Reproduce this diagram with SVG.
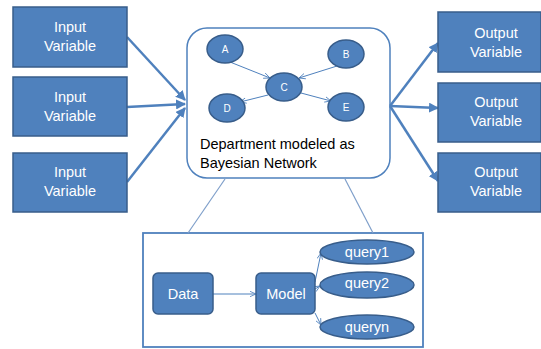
<svg xmlns="http://www.w3.org/2000/svg" width="541" height="349" viewBox="0 0 541 349">
  <style>
    .box { fill: #4f81bd; stroke: #385d8a; stroke-width: 1.5; }
    .lbl { fill: #ffffff; font-family: "Liberation Sans", Arial, sans-serif; font-size: 14.5px; text-anchor: middle; }
    .nlbl { fill: #ffffff; font-family: "Liberation Sans", Arial, sans-serif; font-size: 10px; text-anchor: middle; }
    .dark { fill: #000000; font-family: "Liberation Sans", Arial, sans-serif; font-size: 14.5px; }
    .flow { stroke: #4f81bd; stroke-width: 2.5; fill: none; marker-end: url(#bigArrow); }
    .thin { stroke: #4f81bd; stroke-width: 1; fill: none; marker-end: url(#openArrow); }
    .link { stroke: #7f9fca; stroke-width: 1.2; fill: none; }
  </style>
  <defs>
    <marker id="bigArrow" viewBox="0 0 10 10" refX="9" refY="5" markerWidth="4" markerHeight="4" orient="auto">
      <path d="M0,0 L10,5 L0,10 z" fill="#4f81bd"/>
    </marker>
    <marker id="openArrow" viewBox="0 0 10 10" refX="9" refY="5" markerWidth="7" markerHeight="7" orient="auto">
      <path d="M0,1 L9,5 L0,9" fill="none" stroke="#4f81bd" stroke-width="1.2"/>
    </marker>
  </defs>

  <rect width="541" height="349" fill="#ffffff"/>

  <!-- containers -->
  <g id="department">
    <rect x="187" y="28" width="203" height="150" rx="20" ry="20" fill="#ffffff" stroke="#4f81bd" stroke-width="1.5"/>
    <text class="dark" x="200" y="149">Department modeled as</text>
    <text class="dark" x="200" y="168">Bayesian Network</text>
  </g>
  <g id="detail">
    <rect x="143" y="233" width="280" height="114" fill="#ffffff" stroke="#4f81bd" stroke-width="1.8"/>
  </g>

  <!-- connectors -->
  <g id="connectors">
    <line class="flow" x1="127" y1="37" x2="185" y2="100"/>
    <line class="flow" x1="127" y1="107" x2="185" y2="104"/>
    <line class="flow" x1="127" y1="182" x2="185" y2="108"/>
    <line class="flow" x1="390" y1="106" x2="438" y2="43"/>
    <line class="flow" x1="390" y1="106" x2="438" y2="108"/>
    <line class="flow" x1="390" y1="106" x2="438" y2="181"/>
    <line class="thin" x1="230" y1="62" x2="270" y2="78"/>
    <line class="thin" x1="337" y1="66" x2="299" y2="78"/>
    <line class="thin" x1="268" y1="95" x2="240" y2="102"/>
    <line class="thin" x1="301" y1="93" x2="331" y2="101"/>
    <line class="link" x1="225" y1="179" x2="188" y2="233"/>
    <line class="link" x1="345" y1="179" x2="373" y2="233"/>
    <line class="thin" x1="213" y1="294" x2="256" y2="294"/>
    <line class="thin" x1="315" y1="282" x2="321" y2="253"/>
    <line class="thin" x1="315" y1="289" x2="320" y2="286"/>
    <line class="thin" x1="315" y1="313" x2="321" y2="325"/>
  </g>

  <!-- inputs -->
  <g id="input1">
    <rect class="box" x="13" y="7" width="114" height="60"/>
    <text class="lbl" x="70" y="32">Input</text>
    <text class="lbl" x="70" y="51">Variable</text>
  </g>
  <g id="input2">
    <rect class="box" x="13" y="77" width="114" height="59"/>
    <text class="lbl" x="70" y="102">Input</text>
    <text class="lbl" x="70" y="121">Variable</text>
  </g>
  <g id="input3">
    <rect class="box" x="13" y="153" width="114" height="59"/>
    <text class="lbl" x="70" y="177">Input</text>
    <text class="lbl" x="70" y="196">Variable</text>
  </g>

  <!-- network nodes -->
  <g id="nodeA">
    <ellipse class="box" cx="225" cy="49" rx="18" ry="14"/>
    <text class="nlbl" x="225" y="53">A</text>
  </g>
  <g id="nodeB">
    <ellipse class="box" cx="346" cy="54" rx="18" ry="14"/>
    <text class="nlbl" x="346" y="58">B</text>
  </g>
  <g id="nodeC">
    <ellipse class="box" cx="284" cy="87" rx="18" ry="14"/>
    <text class="nlbl" x="284" y="91">C</text>
  </g>
  <g id="nodeD">
    <ellipse class="box" cx="227" cy="108" rx="18" ry="14"/>
    <text class="nlbl" x="227" y="112">D</text>
  </g>
  <g id="nodeE">
    <ellipse class="box" cx="346" cy="107" rx="18" ry="14"/>
    <text class="nlbl" x="346" y="111">E</text>
  </g>

  <!-- outputs -->
  <g id="output1">
    <rect class="box" x="438" y="12" width="103" height="60"/>
    <text class="lbl" x="496" y="38">Output</text>
    <text class="lbl" x="496" y="57">Variable</text>
  </g>
  <g id="output2">
    <rect class="box" x="438" y="83" width="103" height="59"/>
    <text class="lbl" x="496" y="107">Output</text>
    <text class="lbl" x="496" y="126">Variable</text>
  </g>
  <g id="output3">
    <rect class="box" x="438" y="153" width="103" height="59"/>
    <text class="lbl" x="496" y="177">Output</text>
    <text class="lbl" x="496" y="196">Variable</text>
  </g>

  <!-- detail nodes -->
  <g id="data">
    <rect class="box" x="153" y="273" width="60" height="41" rx="5" ry="5"/>
    <text class="lbl" x="183" y="299">Data</text>
  </g>
  <g id="model">
    <rect class="box" x="256" y="273" width="59" height="41" rx="5" ry="5"/>
    <text class="lbl" x="286" y="299">Model</text>
  </g>
  <g id="query1">
    <ellipse class="box" cx="367" cy="252" rx="47" ry="12"/>
    <text class="lbl" x="367" y="257">query1</text>
  </g>
  <g id="query2">
    <ellipse class="box" cx="367" cy="285" rx="47" ry="13"/>
    <text class="lbl" x="367" y="288">query2</text>
  </g>
  <g id="queryn">
    <ellipse class="box" cx="367" cy="327" rx="47" ry="12"/>
    <text class="lbl" x="367" y="332">queryn</text>
  </g>
</svg>
